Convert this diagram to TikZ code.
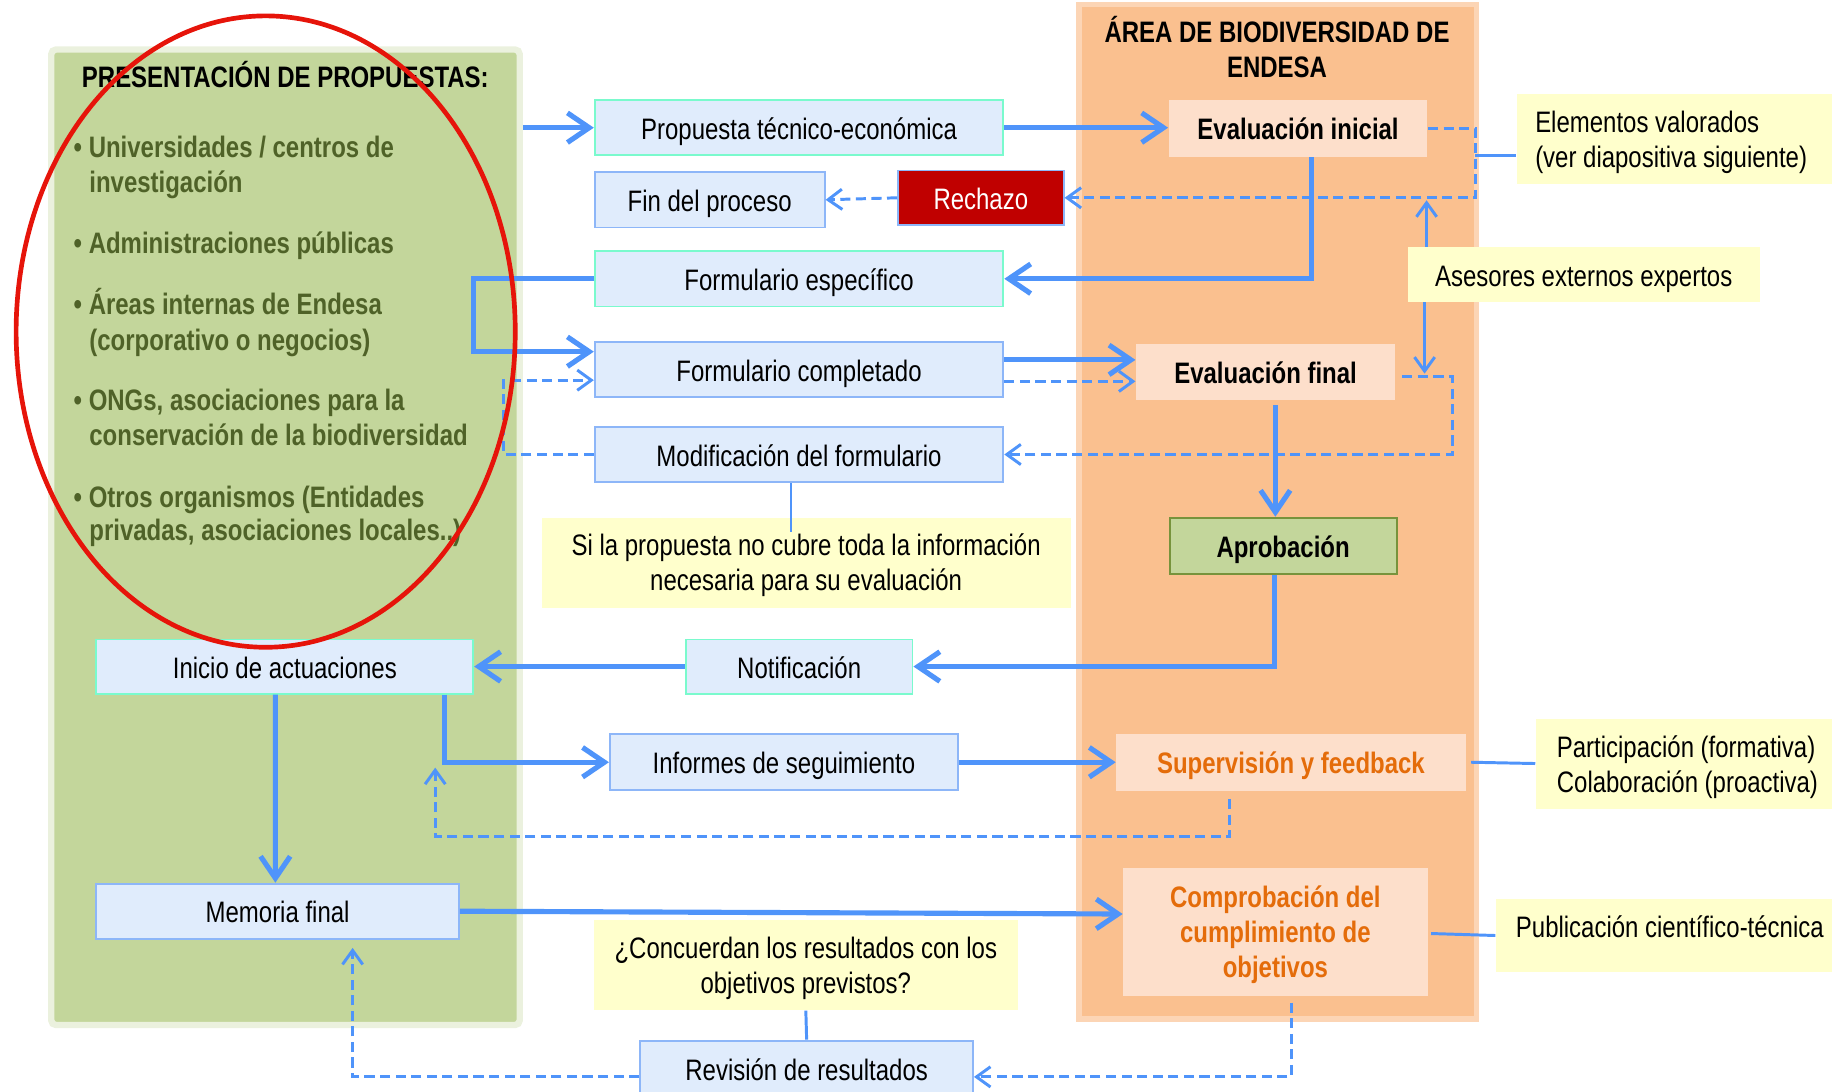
\documentclass[tikz,border=0pt]{standalone}
\usepackage{fontspec}
\setmainfont{Liberation Sans}[FakeStretch=0.81]
\usetikzlibrary{arrows.meta,calc}

\definecolor{flowblue}{RGB}{79,148,250}
\definecolor{boxfill}{RGB}{224,236,252}
\definecolor{boxline}{RGB}{141,182,248}
\definecolor{aqualine}{RGB}{122,250,205}
\definecolor{rechazofill}{RGB}{192,0,0}
\definecolor{peachfill}{RGB}{253,223,203}
\definecolor{orangetext}{RGB}{228,108,10}
\definecolor{orangefill}{RGB}{250,192,143}
\definecolor{orangeline}{RGB}{252,213,181}
\definecolor{greenfill}{RGB}{195,214,155}
\definecolor{greenline}{RGB}{235,241,222}
\definecolor{aprobline}{RGB}{119,147,60}
\definecolor{olivetext}{RGB}{79,98,40}
\definecolor{notefill}{RGB}{255,255,204}
\definecolor{ringred}{RGB}{230,20,10}

\newcommand\diagfont{\fontsize{19}{22.5}\selectfont}

\tikzset{every picture/.style={line width=0.75pt}}

\begin{document}
\begin{tikzpicture}[x=0.75pt,y=0.75pt,yscale=-1,xscale=1,font=\diagfont,
  oneline/.style={text height=16pt, text depth=1pt},
  box/.style={draw=boxline, fill=boxfill, line width=1.2pt, inner sep=0pt, oneline},
  aquabox/.style={box, draw=aqualine},
  peach/.style={fill=peachfill, inner sep=0pt, font=\diagfont\bfseries, oneline},
  note/.style={fill=notefill, inner sep=0pt},
  sidenote/.style={note, anchor=west, align=left, execute at begin node={\spaceskip=0pt\xspaceskip=0pt\relax}},
  bullet/.style={anchor=base west, inner sep=0pt, text=olivetext, font=\diagfont\bfseries},
  title/.style={anchor=base, inner sep=0pt, font=\diagfont\bfseries},
  flow/.style={draw=flowblue, line width=3.3pt, -{Straight Barb[length=14pt,width=19pt]}},
  dashflow/.style={draw=flowblue, line width=1.9pt, dash pattern=on 6.5pt off 3.5pt, -{Straight Barb[length=9pt,width=13pt]}},
  thinflow/.style={draw=flowblue, line width=1.9pt, -{Straight Barb[length=9pt,width=13pt]}},
  link/.style={draw=flowblue, line width=1.9pt}]
\useasboundingbox (0,0) rectangle (1568,934);

%Shape: Rectangle [panels]
\node[draw=greenline, fill=greenfill, line width=4.1pt, rounded corners=3pt, inner sep=0pt, minimum width=300.7pt, minimum height=626.2pt] (proponentes) at (244.35,459.85) {};
\node[draw=orangeline, fill=orangefill, line width=3.4pt, inner sep=0pt, minimum width=255.1pt, minimum height=651.3pt] (areaBio) at (1093.6,437.85) {};

% Text Node
\node[title] (tituloProp) at (244.2,75) {PRESENTACIÓN DE PROPUESTAS:};
\node[title] (tituloArea) at (1093,36) {ÁREA DE BIODIVERSIDAD DE};
\node[title] (tituloArea2) at (1093,66.6) {ENDESA};

% Text Node
\node[bullet] (univ) at (62.6,134.5) {\textbullet\ Universidades / centros de};
\node[bullet] (univ2) at (76,165) {investigación};
\node[bullet] (admin) at (62.6,217) {\textbullet\ Administraciones públicas};
\node[bullet] (areas) at (62.6,269) {\textbullet\ Áreas internas de Endesa};
\node[bullet] (areas2) at (76,299.6) {(corporativo o negocios)};
\node[bullet] (ongs) at (62.6,351.5) {\textbullet\ ONGs, asociaciones para la};
\node[bullet] (ongs2) at (76,381.5) {conservación de la biodiversidad};
\node[bullet] (otros) at (62.6,434) {\textbullet\ Otros organismos (Entidades};
\node[bullet] (otros2) at (76,463) {privadas, asociaciones locales..)};

% Text Node
\node[aquabox, minimum width=262.3pt, minimum height=35.6pt] (propuesta) at (683.9,109.3) {Propuesta técnico-económica};
\node[box, minimum width=147.6pt, minimum height=35.6pt] (fin) at (607.4,171) {Fin del proceso};
\node[box, fill=rechazofill, text=white, minimum width=106.3pt, minimum height=35pt] (rechazo) at (839.5,169.3) {Rechazo};
\node[aquabox, minimum width=262.3pt, minimum height=35.6pt] (especifico) at (683.9,238.6) {Formulario específico};
\node[box, minimum width=262.3pt, minimum height=35.6pt] (completado) at (683.9,316.4) {Formulario completado};
\node[box, minimum width=262.3pt, minimum height=35.6pt] (modificacion) at (683.9,389) {Modificación del formulario};
\node[note, align=center, text depth=0pt, minimum width=339.8pt, minimum height=57.8pt] (notaInfo) at (690,481.5) {Si la propuesta no cubre toda la información\\necesaria para su evaluación};

% Text Node
\node[peach, minimum width=166.1pt, minimum height=36.3pt] (evalIni) at (1111,109.8) {Evaluación inicial};
\node[peach, minimum width=166.3pt, minimum height=36pt] (evalFin) at (1083.2,318.3) {Evaluación final};
\node[draw=aprobline, fill=greenfill, line width=1.2pt, inner sep=0pt, font=\diagfont\bfseries, oneline, minimum width=145.7pt, minimum height=35.9pt] (aprobacion) at (1098.2,467) {Aprobación};
\node[sidenote, inner xsep=12pt, text width=200pt, text depth=22pt, minimum height=58pt] (elementos) at (1297.5,118.7) {Elementos valorados\\(ver diapositiva siguiente)};
\node[note, oneline, minimum width=225.8pt, minimum height=35.1pt] (asesores) at (1355.5,234.9) {Asesores externos expertos};

% Text Node
\node[aquabox, minimum width=145.5pt, minimum height=34.7pt] (notificacion) at (684,570.5) {Notificación};
\node[aquabox, minimum width=241.9pt, minimum height=34.7pt] (inicio) at (243.8,570.5) {Inicio de actuaciones};
\node[box, minimum width=223.5pt, minimum height=35.9pt] (informes) at (671,652.4) {Informes de seguimiento};
\node[peach, text=orangetext, minimum width=224.2pt, minimum height=36.3pt] (supervision) at (1104.9,652.4) {Supervisión y feedback};
\node[sidenote, inner xsep=13.5pt, text width=195pt, text depth=22pt, minimum height=57.8pt] (participacion) at (1314,653.5) {Participación (formativa)\\Colaboración (proactiva)};
\node[box, minimum width=232.7pt, minimum height=35.4pt] (memoria) at (237.6,779.9) {Memoria final};
\node[fill=peachfill, inner sep=0pt, font=\diagfont\bfseries, text=orangetext, align=center, text depth=0pt, minimum width=195.3pt, minimum height=82.1pt] (comprobacion) at (1091.6,797.5) {Comprobación del\\cumplimiento de\\objetivos};
\node[sidenote, inner xsep=12.8pt, text width=215pt, text height=10.5pt, text depth=7.5pt, minimum height=46.3pt] (publicacion) at (1279.9,800.7) {Publicación científico-técnica};
\node[note, align=center, text depth=0pt, minimum width=272pt, minimum height=57.8pt] (concuerdan) at (689.7,826) {¿Concuerdan los resultados con los\\objetivos previstos?};
\node[box, minimum width=213.6pt, minimum height=35.6pt] (revision) at (690.4,914.4) {Revisión de resultados};

%Straight Lines
\draw[flow] (proponentes.east |- propuesta.west) -- (propuesta.west);
\draw[flow] (propuesta.east) -- (evalIni.west |- propuesta.east);
\draw[flow] ($(evalIni.south)+(11.7,0)$) |- (especifico.east);
\draw[flow] (especifico.west) -- ++(-103,0) |- ($(completado.west)+(0,-15.4)$);
\draw[flow] ($(completado.east)+(0,-8.4)$) -- ($(evalFin.west)+(0,-10.3)$);
\draw[dashflow] ($(completado.east)+(0,10)$) -- ($(evalFin.west)+(0,8.1)$);
\draw[dashflow] ($(evalFin.east)+(5.6,4.2)$) -- ++(43.1,0) |- (modificacion.east);
\draw[dashflow] (modificacion.west) -- ++(-77,0) |- ($(completado.west)+(0,9)$);
\draw[link] ($(modificacion.south)+(-6.9,0)$) -- ++(0,42);
\draw[dashflow] (evalIni.east) -- ++(40.7,0) |- (rechazo.east);
\draw[dashflow] (rechazo.west) -- (fin.east);
\draw[link] ($(elementos.west)+(0,14.3)$) -- ++(-35,0);
\draw[thinflow] ($(asesores.north)+(-134.5,0)$) -- ++(0,-39.6);
\draw[thinflow] ($(asesores.south)+(-136.2,0)$) -- ++(0,61);
\draw[flow] ($(evalFin.south)+(8.4,4)$) coordinate (efb) -- (efb |- aprobacion.north);
\draw[flow] ($(aprobacion.south)+(-7.5,0)$) |- (notificacion.east);
\draw[flow] (notificacion.west) -- (inicio.east);
\draw[flow] ($(inicio.south)+(-8.1,0)$) -- ($(memoria.north)+(-1.9,0)$);
\draw[flow] ($(inicio.south)+(136.4,0)$) |- (informes.west);
\draw[flow] (informes.east) -- (supervision.west);
\coordinate (retSup) at (372.5,657);
\draw[dashflow] ($(supervision.south)+(-52.5,6.7)$) -- ++(0,32.4) -| (retSup);
\draw[link] ($(supervision.east)+(4.2,0)$) -- (participacion.west);
\draw[flow] (memoria.east) -- ($(comprobacion.west)+(0,-15.2)$);
\draw[link] ($(comprobacion.east)+(2.5,1.5)$) -- (publicacion.west);
\draw[link] (concuerdan.south) -- (revision.north);
\draw[dashflow] ($(comprobacion.south)+(13.4,5.4)$) |- ($(revision.east)+(0,7.3)$);
\draw[dashflow] ($(revision.west)+(0,7.3)$) -| ($(memoria.south)+(64.2,7)$);

%Shape: Ellipse
\draw[draw=ringred, line width=3pt] (227.4,283.8) ellipse [x radius=213.6, y radius=270.2];

\end{tikzpicture}
\end{document}
